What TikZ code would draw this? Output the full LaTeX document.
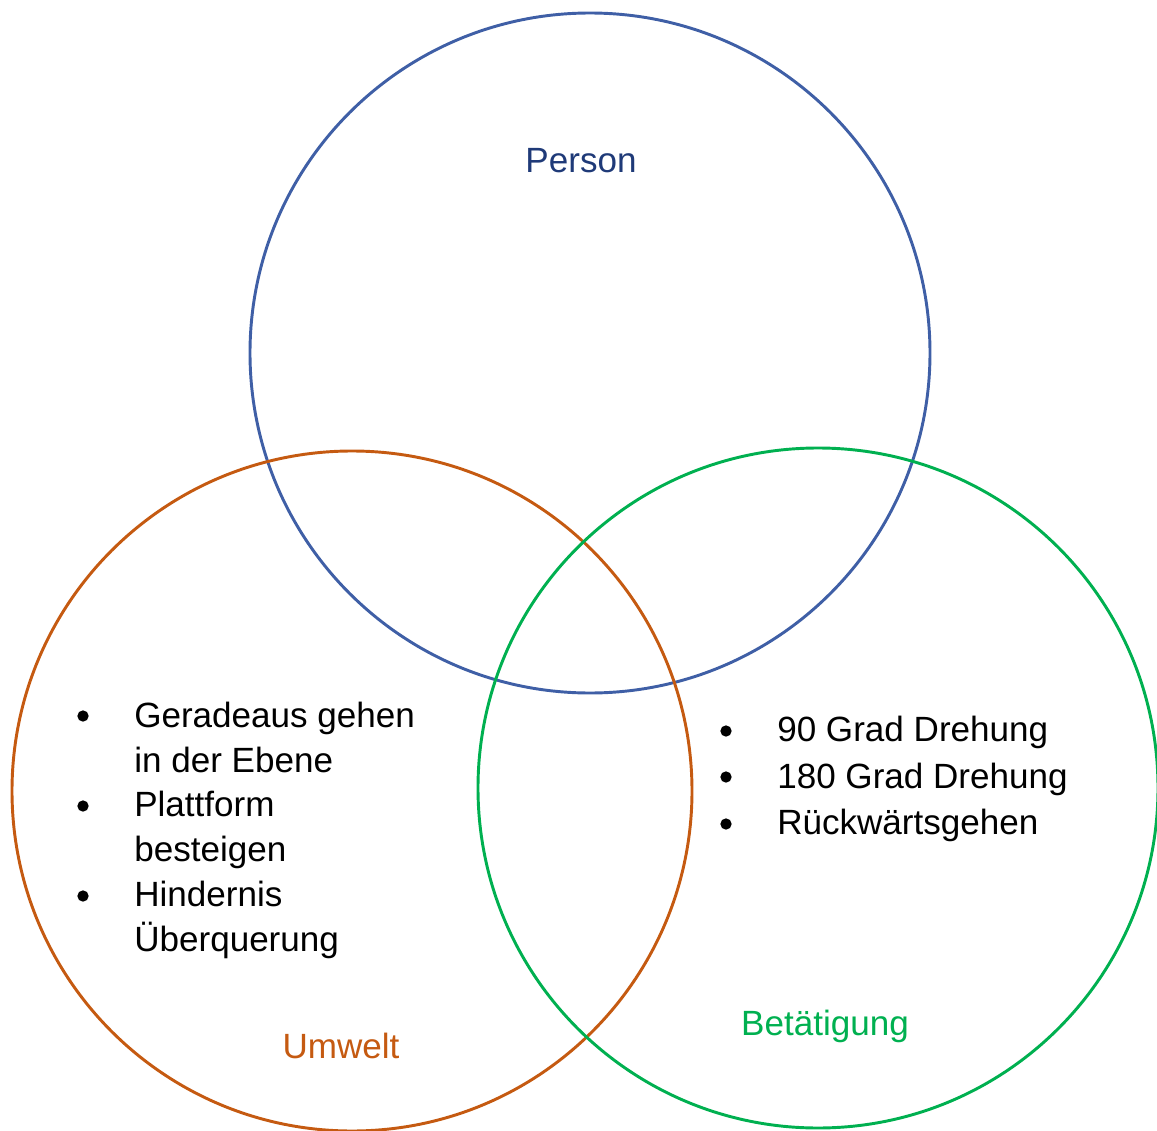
\documentclass[tikz,border=0pt]{standalone}
\usepackage{fontspec}
\setmainfont{Liberation Sans}
\definecolor{personline}{HTML}{3F5FA6}
\definecolor{persontext}{HTML}{1F3A78}
\definecolor{umwelt}{HTML}{C55A11}
\definecolor{taetig}{HTML}{00B050}

\begin{document}
\begin{tikzpicture}[x=0.75pt,y=-0.75pt]
        \tikzstyle{ring} = [line width=2.2pt]
        \tikzstyle{label} = [anchor=base, inner sep=0pt, font=\fontsize{26.3}{34}\selectfont]
        \tikzstyle{item} = [anchor=base west, align=left, inner sep=0pt]
        \tikzstyle{dot} = [circle, fill=black, inner sep=0pt, minimum size=8.5pt]
        \useasboundingbox (0,0) rectangle (1157,1131);

        % the three circles
        \coordinate (person) at (590,353);
        \coordinate (umwelt) at (352,791);
        \coordinate (taetig) at (818,788);
        \draw[ring, personline] (person) circle (255pt);
        \draw[ring, umwelt] (umwelt) circle (255pt);
        \draw[ring, taetig] (taetig) circle (255pt);

        % circle names
        \node[label, text=persontext] (lperson) at (581,172) {Person};
        \node[label, text=umwelt] (lumwelt) at (341,1058) {Umwelt};
        \node[label, text=taetig] (ltaetig) at (825,1035) {Betätigung};

        % left list (base = last line)
        \node[dot] (d1) at (83,716) {};
        \node[dot] (d2) at (83,806) {};
        \node[dot] (d3) at (83,896) {};
        \node[item, font=\fontsize{26.3}{33.75}\selectfont] (gerade) at (134,772) {Geradeaus gehen\\in der Ebene};
        \node[item, font=\fontsize{26.3}{33.75}\selectfont] (plattform) at (134,861) {Plattform\\besteigen};
        \node[item, font=\fontsize{26.3}{33.75}\selectfont] (hindernis) at (134,951) {Hindernis\\Überquerung};

        % right list
        \node[dot] (d4) at (726,731) {};
        \node[dot] (d5) at (726,777) {};
        \node[dot] (d6) at (726,824) {};
        \node[item, font=\fontsize{26.3}{34}\selectfont] (dreh90) at (777,741) {90 Grad Drehung};
        \node[item, font=\fontsize{26.3}{34}\selectfont] (dreh180) at (777,788) {180 Grad Drehung};
        \node[item, font=\fontsize{26.3}{34}\selectfont] (rueck) at (777,834) {Rückwärtsgehen};
    \end{tikzpicture}
\end{document}
